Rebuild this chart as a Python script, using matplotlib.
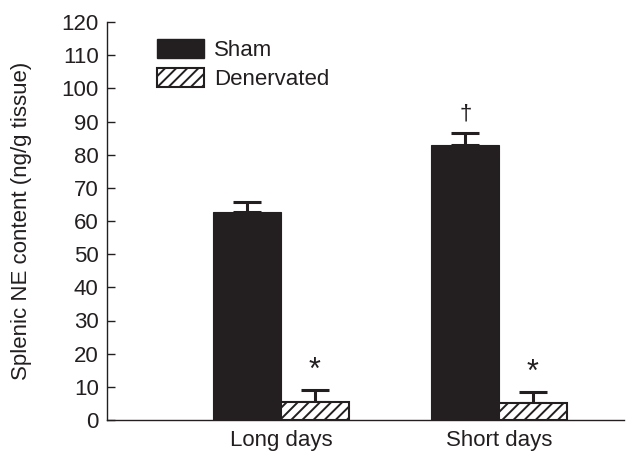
import matplotlib
matplotlib.use("Agg")
import matplotlib.pyplot as plt
import numpy as np
from matplotlib.patches import Patch

plt.rcParams["font.family"] = ["Liberation Sans", "DejaVu Sans"]
plt.rcParams["hatch.linewidth"] = 1.4

groups = ["Long days", "Short days"]
sham = [62.7, 82.9]
sham_err = [3.0, 3.6]
denervated = [5.5, 5.1]
denervated_err = [3.5, 3.3]
sham_marks = ["", "\u2020"]
den_marks = ["*", "*"]

INK = "#231f20"
WIDTH = 0.31


def main() -> None:
    fig = plt.figure(figsize=(6.26, 4.53), dpi=100)
    ax = fig.add_axes([107 / 626, 33 / 453, 517 / 626, 398 / 453])

    x = np.arange(len(groups))
    ax.bar(x - WIDTH / 2, sham, WIDTH, color=INK, edgecolor=INK, linewidth=0.8,
           zorder=2)
    ax.bar(x + WIDTH / 2, denervated, WIDTH, color="white", edgecolor=INK,
           hatch="///", linewidth=1.5, zorder=2)
    # upper-only error bars
    ax.errorbar(x - WIDTH / 2, sham, yerr=[np.zeros(2), sham_err], fmt="none",
                ecolor=INK, elinewidth=2.2, capsize=10, capthick=2.2, zorder=1)
    ax.errorbar(x + WIDTH / 2, denervated, yerr=[np.zeros(2), denervated_err],
                fmt="none", ecolor=INK, elinewidth=2.2, capsize=10, capthick=2.2,
                zorder=1)

    for i in range(len(groups)):
        if sham_marks[i]:
            ax.text(x[i] - WIDTH / 2, sham[i] + sham_err[i] + 2.5, sham_marks[i],
                    ha="center", va="bottom", fontsize=16, color=INK)
        if den_marks[i]:
            ax.text(x[i] + WIDTH / 2, denervated[i] + denervated_err[i] + 1.2,
                    den_marks[i], ha="center", va="bottom", fontsize=22,
                    color=INK)

    ax.set_xlim(-0.798, 1.573)
    ax.set_ylim(0, 120)
    ax.set_yticks(np.arange(0, 121, 10))
    ax.set_xticks(x)
    ax.set_xticklabels(groups)
    ax.tick_params(axis="y", direction="in", length=6, width=1.0, color=INK,
                   labelsize=16, labelcolor=INK, pad=6)
    ax.tick_params(axis="x", length=0, labelsize=16, labelcolor=INK, pad=7)
    for s in ("top", "right"):
        ax.spines[s].set_visible(False)
    for s in ("left", "bottom"):
        ax.spines[s].set_color(INK)
        ax.spines[s].set_linewidth(1.0)
    ax.set_ylabel("Splenic NE content (ng/g tissue)", fontsize=16,
                  color=INK)
    ax.yaxis.set_label_coords(-0.145, 0.5)

    handles = [
        Patch(facecolor=INK, edgecolor=INK, label="Sham"),
        Patch(facecolor="white", edgecolor=INK, hatch="///", linewidth=1.5,
              label="Denervated"),
    ]
    ax.legend(handles=handles, loc="upper left", bbox_to_anchor=(0.058, 1.008),
              frameon=False, fontsize=16, handlelength=2.1, handleheight=0.95,
              handletextpad=0.45, labelspacing=0.3, labelcolor=INK)

    fig.savefig("out.png", dpi=100)


if __name__ == "__main__":
    main()
